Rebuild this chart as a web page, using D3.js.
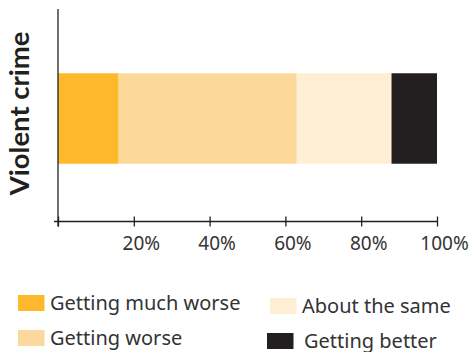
<!DOCTYPE html>
<html>
<head>
<meta charset="utf-8">
<script src="https://cdn.jsdelivr.net/npm/d3@7"></script>
<style>
  html, body { margin: 0; padding: 0; background: #fff; }
  svg { display: block; }
  text { font-family: "Noto Sans", "Lato", sans-serif; }
</style>
</head>
<body>
<svg id="chart" width="472" height="352"></svg>
<script>
// Survey responses on violent crime (percent of respondents)
const categories = ["Violent crime"];
const seriesNames = ["Getting much worse", "Getting worse", "About the same", "Getting better"];
const seriesValues = [16, 47, 25, 12];
const seriesColors = ["#FDB92A", "#FCD99A", "#FEEFD4", "#231F20"];
const tickValues = [20, 40, 60, 80, 100];
const tickLabels = ["20%", "40%", "60%", "80%", "100%"];

const svg = d3.select("#chart");
const ink = "#231F20";

const x = d3.scaleLinear().domain([0, 100]).range([58, 437]);
const y = d3.scaleBand().domain(categories).range([15, 222]).paddingInner(0).paddingOuter(0.644);

// Stack the segments left to right
let acc = 0;
const segments = seriesValues.map((v, i) => {
  const s = { name: seriesNames[i], x0: acc, x1: acc + v, color: seriesColors[i] };
  acc += v;
  return s;
});

svg.append("g").selectAll("rect")
  .data(segments)
  .join("rect")
  .attr("x", d => x(d.x0))
  .attr("y", y(categories[0]))
  .attr("width", d => x(d.x1) - x(d.x0))
  .attr("height", y.bandwidth())
  .attr("fill", d => d.color);

// Horizontal axis with ticks crossing the line
const xAxis = d3.axisBottom(x)
  .tickValues([0].concat(tickValues))
  .tickFormat(d => d === 0 ? "" : tickLabels[tickValues.indexOf(d)])
  .tickSize(5)
  .tickSizeOuter(0);

const gx = svg.append("g").attr("transform", "translate(0,221.5)").call(xAxis);
gx.select(".domain").attr("d", "M54,0H437").attr("stroke", ink).attr("stroke-width", 1.3);
gx.selectAll(".tick line").attr("y1", -5).attr("y2", 5).attr("stroke", ink).attr("stroke-width", 1.3);
gx.selectAll(".tick text")
  .attr("y", 28.5).attr("dy", 0).attr("dx", 7)
  .attr("fill", "#333")
  .style("font-size", "19px")
  .style("font-family", "'Noto Sans', Lato, sans-serif");

// Vertical axis line
svg.append("line")
  .attr("x1", x(0)).attr("x2", x(0))
  .attr("y1", 9).attr("y2", 226.5)
  .attr("stroke", ink).attr("stroke-width", 1.3);

// Category label, rotated
svg.append("text")
  .attr("transform", `translate(28.5, 113.4) rotate(-90)`)
  .attr("text-anchor", "middle")
  .attr("fill", ink)
  .style("font-family", "Lato, 'Noto Sans', sans-serif")
  .style("font-size", "27.5px")
  .style("font-weight", "700")
  .text(categories[0]);

// Legend in two columns
const legendPos = [
  { rx: 18, ry: 295, tx: 50, ty: 310 },
  { rx: 18, ry: 330, tx: 50, ty: 345 },
  { rx: 270, ry: 298, tx: 302, ty: 313 },
  { rx: 267, ry: 333, tx: 304, ty: 347.5 }
];
const legend = svg.append("g").selectAll("g")
  .data(segments)
  .join("g");
legend.append("rect")
  .attr("x", (d, i) => legendPos[i].rx)
  .attr("y", (d, i) => legendPos[i].ry)
  .attr("width", 26.5)
  .attr("height", 16)
  .attr("fill", d => d.color);
legend.append("text")
  .attr("x", (d, i) => legendPos[i].tx)
  .attr("y", (d, i) => legendPos[i].ty)
  .attr("fill", "#333")
  .style("font-size", "20px")
  .text(d => d.name);
</script>
</body>
</html>
